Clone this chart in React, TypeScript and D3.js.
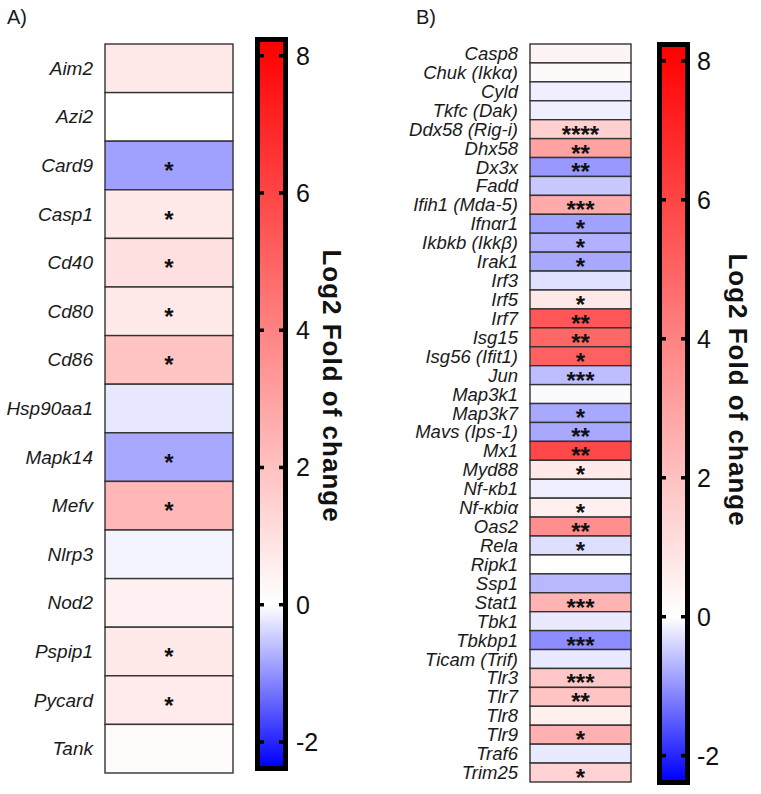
import React from "react";
import * as d3 from "d3";

const genesA = ["Aim2","Azi2","Card9","Casp1","Cd40","Cd80","Cd86","Hsp90aa1","Mapk14","Mefv","Nlrp3","Nod2","Pspip1","Pycard","Tank"];
const valuesA = [0.75, 0.0, -0.88, 0.7, 1.0, 0.7, 1.9, -0.22, -0.8, 2.3, -0.1, 0.45, 0.7, 0.65, 0.12];
const starsA = ["", "", "*", "*", "*", "*", "*", "", "*", "*", "", "", "*", "*", ""];

const genesB = ["Casp8","Chuk (Ikkα)","Cyld","Tkfc (Dak)","Ddx58 (Rig-i)","Dhx58","Dx3x","Fadd","Ifih1 (Mda-5)","Ifnαr1","Ikbkb (Ikkβ)","Irak1","Irf3","Irf5","Irf7","Isg15","Isg56 (Ifit1)","Jun","Map3k1","Map3k7","Mavs (Ips-1)","Mx1","Myd88","Nf-κb1","Nf-κbiα","Oas2","Rela","Ripk1","Ssp1","Stat1","Tbk1","Tbkbp1","Ticam (Trif)","Tlr3","Tlr7","Tlr8","Tlr9","Traf6","Trim25"];
const valuesB = [0.35, 0.15, -0.15, -0.15, 1.5, 3.0, -0.95, -0.5, 2.7, -0.87, -0.72, -0.8, -0.29, 0.75, 5.4, 4.9, 5.1, -0.6, -0.05, -0.8, -0.8, 5.9, 0.7, -0.15, 0.5, 3.6, -0.3, 0.05, -0.65, 2.4, -0.2, -1.05, -0.2, 1.8, 1.9, 0.5, 2.5, -0.2, 1.4];
const starsB = ["","","","","****","**","**","","***","*","*","*","","*","**","**","*","***","","*","**","**","*","","*","**","*","","","***","","***","","***","**","","*","","*"];

const colorTicks = [-2, 0, 2, 4, 6, 8];
const colorDomain = [-2.35, 0, 8.2];
const colorTitle = "Log2 Fold of change";

const color = d3.scaleLinear<string>().domain(colorDomain).range(["#0000ff", "#ffffff", "#ff0000"]);

type PanelProps = {
  id: string;
  letter: string;
  letterX: number;
  genes: string[];
  values: number[];
  stars: string[];
  x0: number; x1: number; y0: number; y1: number;
  labelX: number; labelSize: number;
  starSize: number;
  cbX: number; cbY0: number; cbY1: number;
  tickX: number; titleX: number; titleY: number;
};

function Panel(p: PanelProps) {
  const y = d3.scaleBand<string>().domain(p.genes).range([p.y0, p.y1]).padding(0);
  const bw = 5;
  const inL = p.cbX + bw, inR = p.cbX + 33 - bw;
  const inT = p.cbY0 + bw, inB = p.cbY1 - bw;
  const cy = d3.scaleLinear().domain([colorDomain[0], colorDomain[2]]).range([inB, inT]);
  const stops = d3.range(0, 21).map(i => {
    const v = colorDomain[0] + (colorDomain[2] - colorDomain[0]) * i / 20;
    return { off: (i / 20) * 100, c: color(v) };
  });
  const zeroOff = ((0 - colorDomain[0]) / (colorDomain[2] - colorDomain[0])) * 100;
  const allStops = [...stops, { off: zeroOff, c: "#ffffff" }].sort((a, b) => a.off - b.off);
  return (
    <g>
      <defs>
        <linearGradient id={p.id} x1="0" y1="1" x2="0" y2="0">
          {allStops.map((s, i) => <stop key={i} offset={s.off + "%"} stopColor={s.c} />)}
        </linearGradient>
      </defs>
      <text x={p.letterX} y={24} fontSize={20} fill="#1a1a1a">{p.letter}</text>
      {p.genes.map((g, i) => (
        <g key={g}>
          <rect x={p.x0} y={y(g)!} width={p.x1 - p.x0} height={y.bandwidth()} fill={color(p.values[i])} stroke="#333" strokeWidth={1.4} />
          <text x={p.labelX} y={y(g)! + y.bandwidth() / 2} dominantBaseline="central" textAnchor="end" fontStyle="italic" fontSize={p.labelSize} fill="#1a1a1a">{g}</text>
          {p.stars[i] && (
            <text x={(p.x0 + p.x1) / 2} y={y(g)! + y.bandwidth() / 2 + p.starSize * 0.56} textAnchor="middle" fontWeight="bold" fontSize={p.starSize} fill="#111">{p.stars[i]}</text>
          )}
        </g>
      ))}
      <rect x={inL} y={inT} width={inR - inL} height={inB - inT} fill={`url(#${p.id})`} />
      <rect x={p.cbX + bw / 2} y={p.cbY0 + bw / 2} width={33 - bw} height={p.cbY1 - p.cbY0 - bw} fill="none" stroke="#000" strokeWidth={bw} />
      {colorTicks.map(t => (
        <g key={t}>
          <line x1={inL} x2={inL + 4} y1={cy(t)} y2={cy(t)} stroke="#000" strokeWidth={3.5} />
          <line x1={inR - 4} x2={inR} y1={cy(t)} y2={cy(t)} stroke="#000" strokeWidth={3.5} />
          <text x={p.tickX} y={cy(t)} dominantBaseline="central" fontSize={25} fill="#111">{t}</text>
        </g>
      ))}
      <text transform={`translate(${p.titleX},${p.titleY}) rotate(90)`} textAnchor="middle" fontWeight="bold" fontSize={26} letterSpacing={1} fill="#111">{colorTitle}</text>
    </g>
  );
}

export default function App() {
  return (
    <svg width={761} height={794} style={{ position: "absolute", left: 0, top: 0, fontFamily: "Liberation Sans, Arial, sans-serif", background: "#fff" }}>
      <rect x={0} y={0} width={761} height={794} fill="#fff" />
      <Panel id="gA" letter="A)" letterX={7} genes={genesA} values={valuesA} stars={starsA}
        x0={105} x1={233} y0={44} y1={773} labelX={93} labelSize={19} starSize={24}
        cbX={255} cbY0={37} cbY1={771} tickX={296} titleX={323} titleY={386} />
      <Panel id="gB" letter="B)" letterX={416} genes={genesB} values={valuesB} stars={starsB}
        x0={530} x1={631} y0={44} y1={782} labelX={518} labelSize={18.5} starSize={24}
        cbX={657} cbY0={42} cbY1={785} tickX={697} titleX={729} titleY={390} />
    </svg>
  );
}
